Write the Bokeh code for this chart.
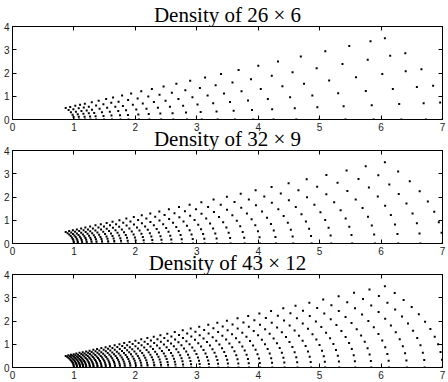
import numpy as np
from bokeh.plotting import figure
from bokeh.layouts import column
from bokeh.models import LinearAxis, Range1d, FixedTicker
from bokeh.embed import file_html
from bokeh.resources import INLINE

# ---- data ----
titles = ["Density of 26 \u00d7 6", "Density of 32 \u00d7 9", "Density of 43 \u00d7 12"]

radii_26 = [1.00, 1.085, 1.18, 1.27, 1.36, 1.49, 1.62, 1.76, 1.89, 2.06, 2.23, 2.42, 2.62,
            2.84, 3.08, 3.34, 3.62, 3.92, 4.25, 4.62, 4.99, 5.42, 5.88, 6.33, 6.73, 7.00]
angles_6 = [0, 6, 12, 18, 24, 30]

radii_32 = [1.00, 1.065, 1.135, 1.21, 1.29, 1.37, 1.46, 1.56, 1.66, 1.77, 1.88, 2.01, 2.14,
            2.28, 2.43, 2.59, 2.76, 2.94, 3.13, 3.33, 3.55, 3.78, 4.03, 4.29, 4.57, 4.87,
            5.19, 5.53, 5.90, 6.28, 6.64, 7.00]
angles_9 = [0, 3.75, 7.5, 11.25, 15, 18.75, 22.5, 26.25, 30]

radii_43 = [1.00, 1.05, 1.10, 1.15, 1.20, 1.26, 1.32, 1.385, 1.45, 1.52, 1.59, 1.67, 1.75,
            1.83, 1.92, 2.01, 2.10, 2.20, 2.31, 2.42, 2.535, 2.655, 2.78, 2.91, 3.05, 3.20,
            3.35, 3.51, 3.68, 3.85, 4.03, 4.23, 4.43, 4.64, 4.86, 5.09, 5.32, 5.58, 5.84,
            6.13, 6.42, 6.71, 7.00]
angles_12 = [0, 2.73, 5.45, 8.18, 10.91, 13.64, 16.36, 19.09, 21.82, 24.55, 27.27, 30]

x_ticks = [0, 1, 2, 3, 4, 5, 6, 7]
y_ticks = [0, 1, 2, 3, 4]

TICK_FONT = "Liberation Sans"


def make_panel(title, radii, angles, top_margin):
    r = np.array(radii)[:, None]
    a = np.deg2rad(np.array(angles))[None, :]
    xs = (r * np.cos(a)).ravel()
    ys = (r * np.sin(a)).ravel()

    p = figure(frame_width=430, frame_height=93,
               x_range=Range1d(0, 7), y_range=Range1d(0, 4),
               output_backend="svg", toolbar_location=None,
               min_border_left=0, min_border_right=5, min_border_top=0, min_border_bottom=0,
               x_axis_location=None, y_axis_location=None,
               title=title)
    p.title.text_font = "Liberation Serif"
    p.title.text_font_size = "21px"
    p.title.text_font_style = "normal"
    p.title.align = "center"
    p.title.standoff = 0
    p.title.text_color = "black"
    p.grid.visible = False
    p.outline_line_color = "black"
    p.outline_line_width = 1
    p.background_fill_color = "white"
    p.border_fill_color = None
    if top_margin:
        p.margin = (top_margin, 0, 0, 0)

    def style(ax, labels):
        ax.major_tick_in = 4
        ax.major_tick_out = 0
        ax.minor_tick_line_color = None
        ax.axis_line_color = "black"
        ax.major_tick_line_color = "black"
        ax.major_label_text_font = TICK_FONT
        if labels:
            ax.major_label_text_color = "#222222"
            ax.major_label_text_font_size = "10px"
            ax.major_label_standoff = 3
        else:
            ax.major_label_text_color = None
            ax.major_label_text_font_size = "1px"
            ax.major_label_standoff = 0

    bx = LinearAxis(ticker=FixedTicker(ticks=x_ticks))
    style(bx, True)
    p.add_layout(bx, "below")
    tx = LinearAxis(ticker=FixedTicker(ticks=x_ticks))
    style(tx, False)
    p.add_layout(tx, "above")
    ly = LinearAxis(ticker=FixedTicker(ticks=y_ticks))
    style(ly, True)
    p.add_layout(ly, "left")
    ry = LinearAxis(ticker=FixedTicker(ticks=y_ticks))
    style(ry, False)
    p.add_layout(ry, "right")

    p.scatter(xs, ys, marker="square", size=2, color="black", line_color=None)
    return p


p1 = make_panel(titles[0], radii_26, angles_6, 0)
p2 = make_panel(titles[1], radii_32, angles_9, -9)
p3 = make_panel(titles[2], radii_43, angles_12, -9)

layout = column(p1, p2, p3, spacing=0)
open("out.html", "w").write(file_html(layout, INLINE))
